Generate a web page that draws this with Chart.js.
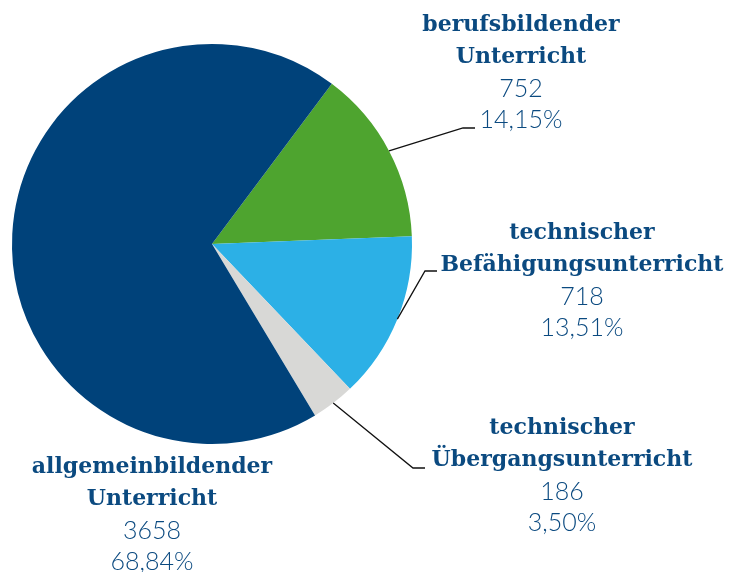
<!DOCTYPE html>
<html><head><meta charset="utf-8">
<script src="https://cdn.jsdelivr.net/npm/chart.js@4/dist/chart.umd.min.js"></script>
<style>html,body{margin:0;padding:0;background:#fff}#wrap{width:733px;height:572px}</style>
</head><body><div id="wrap"><canvas id="c" width="733" height="572"></canvas></div>
<script>
const categories = ["berufsbildender Unterricht","technischer Befähigungsunterricht","technischer Übergangsunterricht","allgemeinbildender Unterricht"];
const labelLines = [["berufsbildender","Unterricht"],["technischer","Befähigungsunterricht"],["technischer","Übergangsunterricht"],["allgemeinbildender","Unterricht"]];
const values = [752, 718, 186, 3658];
const percents = ["14,15%","13,51%","3,50%","68,84%"];
const colors = ["#4ea42f","#2cb0e6","#d8d8d6","#00427a"];

const labelPos = [
  {x:521,y:25, elbow:[463,128], end:[475,128]},
  {x:582,y:233, elbow:[425,271], end:[437,271]},
  {x:562,y:428, elbow:[413,468], end:[425,468]},
  {x:152,y:467, elbow:null, end:null}
];
const TEXT = "#0b4a80";
const boldFont = 'bold 22px "DejaVu Serif"';
const lightFont = '300 25px "Lato"';

const labelPlugin = {
  id:'labels',
  afterDraw(chart){
    const ctx = chart.ctx;
    const meta = chart.getDatasetMeta(0);
    ctx.save();
    meta.data.forEach((arc,i)=>{
      const p = labelPos[i];
      if(p.elbow){
        const {x,y,startAngle,endAngle,outerRadius} = arc.getProps(['x','y','startAngle','endAngle','outerRadius'],true);
        const mid = (startAngle+endAngle)/2;
        const sx = x + Math.cos(mid)*outerRadius, sy = y + Math.sin(mid)*outerRadius;
        ctx.strokeStyle = "#111"; ctx.lineWidth = 1.3;
        ctx.beginPath(); ctx.moveTo(sx,sy); ctx.lineTo(p.elbow[0],p.elbow[1]); ctx.lineTo(p.end[0],p.end[1]); ctx.stroke();
      }
      ctx.fillStyle = TEXT; ctx.textAlign='center'; ctx.textBaseline='middle';
      ctx.font = boldFont;
      ctx.fillText(labelLines[i][0], p.x, p.y);
      ctx.fillText(labelLines[i][1], p.x, p.y+32);
      ctx.font = lightFont;
      ctx.fillText(String(values[i]), p.x, p.y+64);
      ctx.fillText(percents[i], p.x, p.y+95);
    });
    ctx.restore();
  }
};

new Chart(document.getElementById('c'),{
  type:'pie',
  data:{labels:categories,datasets:[{data:values,backgroundColor:colors,borderWidth:0}]},
  options:{
    responsive:false,animation:false,rotation:36.8,
    layout:{padding:{left:12,top:44,right:321,bottom:128}},
    plugins:{legend:{display:false},tooltip:{enabled:false}}
  },
  plugins:[labelPlugin]
});
</script></body></html>
